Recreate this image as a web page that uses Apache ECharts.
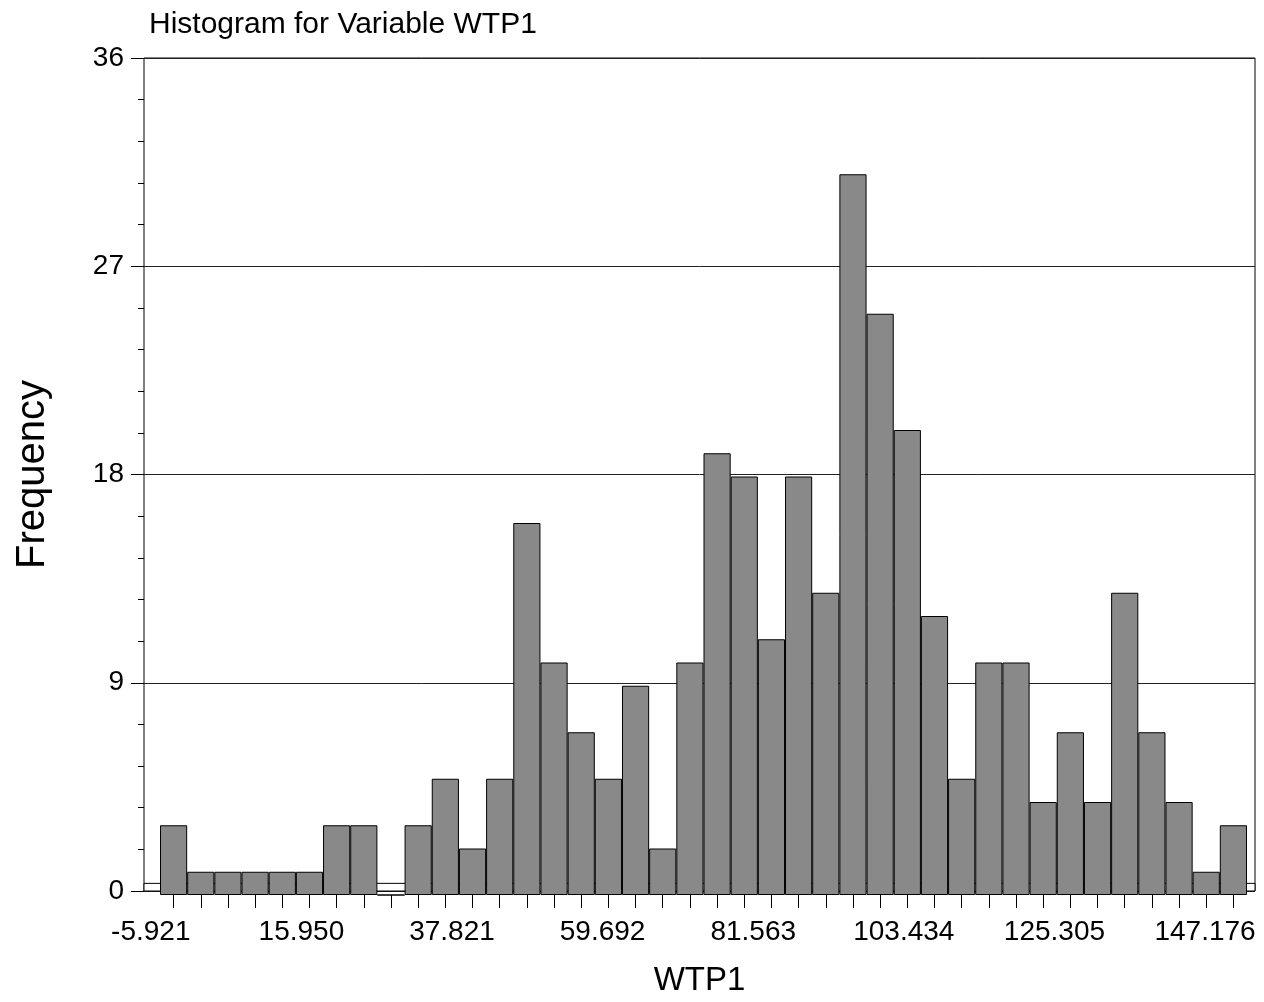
<!DOCTYPE html>
<html><head><meta charset="utf-8">
<script src="https://cdn.jsdelivr.net/npm/echarts@6/dist/echarts.min.js"></script>
<style>html,body{margin:0;padding:0;background:#fff}#c{width:1264px;height:1002px}</style>
</head><body><div id="c"></div>
<script>
// ---- data ----
const binLabels = ['1','2','3','4','5','6','7','8','9','10','11','12','13','14','15','16','17','18','19','20',
                   '21','22','23','24','25','26','27','28','29','30','31','32','33','34','35','36','37','38','39','40'];
const frequencies = [3,1,1,1,1,1,3,3,0,3,5,2,5,16,10,7,5,9,2,10,19,18,11,18,13,31,25,20,12,5,10,10,4,7,4,13,7,4,1,3];
const xTickLabels = [-5.921, 15.950, 37.821, 59.692, 81.563, 103.434, 125.305, 147.176];
const floorHeight = 0.33;

// ---- chart ----
const FONT = '"Liberation Sans", Arial, sans-serif';
const X_MIN = -6.909, X_MAX = 154.43;
const chart = echarts.init(document.getElementById('c'), null, {renderer: 'canvas'});
const option = {
  animation: false,
  backgroundColor: '#fff',
  textStyle: {fontFamily: FONT, color: '#000'},
  title: {
    text: 'Histogram for Variable WTP1', left: 144, top: 5,
    textStyle: {fontFamily: FONT, fontSize: 30, fontWeight: 'normal', color: '#000'}
  },
  grid: [
    {left: 144, top: 58, width: 1111, height: 837, show: true, borderColor: '#000', borderWidth: 1, backgroundColor: 'transparent'},
    {left: 160, top: 58, width: 1087, height: 837}
  ],
  xAxis: [
    {
      type: 'value', gridIndex: 0, min: X_MIN, max: X_MAX,
      name: 'WTP1', nameLocation: 'middle', nameGap: 73,
      nameTextStyle: {fontFamily: FONT, fontSize: 33, color: '#000'},
      axisLine: {show: false, onZero: false}, axisTick: {show: false}, splitLine: {show: false},
      axisLabel: {customValues: xTickLabels, formatter: v => v.toFixed(3), fontFamily: FONT, fontSize: 28, color: '#000', margin: 27}
    },
    {
      type: 'category', gridIndex: 1, data: binLabels,
      axisLine: {show: false, onZero: false},
      axisTick: {show: true, alignWithLabel: true, interval: 0, length: 13, lineStyle: {color: '#000', width: 1}},
      axisLabel: {show: false}, splitLine: {show: false}
    }
  ],
  yAxis: [
    {
      type: 'value', gridIndex: 0, min: 0, max: 36, interval: 9,
      name: 'Frequency', nameLocation: 'middle', nameGap: 91, nameRotate: 90,
      nameTextStyle: {fontFamily: FONT, fontSize: 40, color: '#000'},
      axisLine: {show: false, onZero: false},
      axisTick: {show: true, length: 13, lineStyle: {color: '#000', width: 1}},
      minorTick: {show: true, splitNumber: 5, length: 6, lineStyle: {color: '#000', width: 1}},
      splitLine: {show: true, lineStyle: {color: '#222', width: 1}},
      axisLabel: {fontFamily: FONT, fontSize: 28, color: '#000', margin: 20}
    },
    {type: 'value', gridIndex: 1, min: 0, max: 36, interval: 9, show: false}
  ],
  series: [
    {
      type: 'custom', xAxisIndex: 0, yAxisIndex: 0, z: 1, silent: true,
      data: [[X_MIN, X_MAX, floorHeight]],
      renderItem: (params, api) => {
        const p0 = api.coord([api.value(0), 0]);
        const p1 = api.coord([api.value(1), api.value(2)]);
        return {type: 'rect', shape: {x: p0[0], y: p1[1], width: p1[0] - p0[0], height: p0[1] - p1[1]},
                style: {fill: '#fff', stroke: '#000', lineWidth: 1}};
      }
    },
    {
      type: 'bar', xAxisIndex: 1, yAxisIndex: 1, z: 2, data: frequencies, barWidth: '100%',
      itemStyle: {color: '#898989', borderColor: '#000', borderWidth: 1}
    }
  ]
};
chart.setOption(option);
</script></body></html>
